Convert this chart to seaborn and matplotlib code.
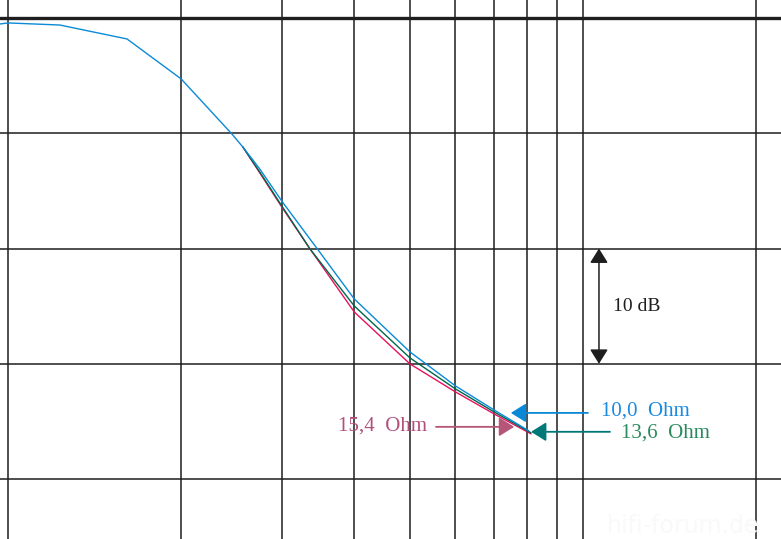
import pandas as pd
import seaborn as sns
import matplotlib.pyplot as plt

# Frequency response curves (relative freq, dB)
freq_10 = [0.968, 1.0, 1.23, 1.61, 2.0, 2.45, 2.56, 2.74, 3.0, 3.45, 4.0, 5.0, 6.0, 7.0, 8.05]
db_10 = [-0.52, -0.43, -0.61, -1.82, -5.29, -10.06, -11.19, -13.10, -15.96, -20.03, -24.37, -28.97, -31.92, -34.00, -35.82]

freq_136 = [2.56, 2.74, 3.0, 3.35, 4.0, 5.0, 6.0, 7.0, 8.12]
db_136 = [-11.19, -13.36, -16.39, -20.03, -24.98, -29.49, -32.18, -34.17, -35.99]

freq_154 = [2.56, 2.74, 3.0, 3.35, 4.0, 5.0, 6.0, 7.0, 8.12]
db_154 = [-11.19, -13.44, -16.48, -20.03, -25.50, -30.01, -32.44, -34.34, -36.08]

x_grid = [1, 2, 3, 4, 5, 6, 7, 8, 9, 10, 20]
y_grid = [-40, -30, -20, -10]

labels = ["15,4  Ohm", "13,6  Ohm", "10,0  Ohm"]
line_colors = ["#e8115e", "#00664a", "#0a8ad8"]

df = pd.concat([
    pd.DataFrame({"f": freq_154, "db": db_154, "load": labels[0]}),
    pd.DataFrame({"f": freq_136, "db": db_136, "load": labels[1]}),
    pd.DataFrame({"f": freq_10, "db": db_10, "load": labels[2]}),
])

sns.set_style("white")
fig = plt.figure(figsize=(7.81, 5.39), dpi=100)
ax = fig.add_axes([0, 0, 1, 1])
ax.set_xscale("log")
ax.set_xlim(0.968, 22.1)
ax.set_ylim(-45.2, 1.56)

for x in x_grid:
    ax.axvline(x, color="#1e1e1e", lw=1.1, zorder=1)
for y in y_grid:
    ax.axhline(y, color="#1e1e1e", lw=1.1, zorder=1)
ax.axhline(0, color="#1e1e1e", lw=2.4, zorder=1)

sns.lineplot(data=df, x="f", y="db", hue="load", palette=dict(zip(labels, line_colors)),
             lw=1.0, sort=False, estimator=None, legend=False, ax=ax, zorder=3)

for s in ax.spines.values():
    s.set_visible(False)
ax.set_xticks([])
ax.set_yticks([])
ax.minorticks_off()
ax.set_xlabel("")
ax.set_ylabel("")

serif = "Liberation Serif"

# 10 dB scale marker
ax.annotate("", xy=(10.66, -20), xytext=(10.66, -30),
            arrowprops=dict(arrowstyle="<|-|>,head_length=0.4,head_width=0.25", color="#1e1e1e",
                            lw=1.1, mutation_scale=22, shrinkA=0, shrinkB=0))
ax.text(11.28, -25.07, "10 dB", family=serif, fontsize=14, color="#1e1e1e", va="center", ha="left")

arrow_kw = dict(arrowstyle="-|>,head_length=0.4,head_width=0.25", lw=1.3,
                mutation_scale=23, shrinkA=0, shrinkB=0)

# 10,0 Ohm
ax.annotate("", xy=(7.49, -34.26), xytext=(10.2, -34.26),
            arrowprops=dict(color="#0a88d8", **arrow_kw))
ax.text(10.75, -34.08, labels[2], family=serif, fontsize=15, color="#1a8ae0", va="center", ha="left")

# 13,6 Ohm
ax.annotate("", xy=(8.12, -35.9), xytext=(11.14, -35.9),
            arrowprops=dict(color="#007878", **arrow_kw))
ax.text(11.65, -35.99, labels[1], family=serif, fontsize=15, color="#2a8a5e", va="center", ha="left")

# 15,4 Ohm
ax.annotate("", xy=(7.59, -35.47), xytext=(5.55, -35.47),
            arrowprops=dict(color="#b55578", **arrow_kw))
ax.text(3.75, -35.39, labels[0], family=serif, fontsize=15, color="#b0507a", va="center", ha="left")

# faint watermark
ax.text(14.9, -44.1, "hifi-forum.de", fontsize=17, color="#f9f9f9", va="center", ha="center")

fig.savefig("out.png", dpi=100)
